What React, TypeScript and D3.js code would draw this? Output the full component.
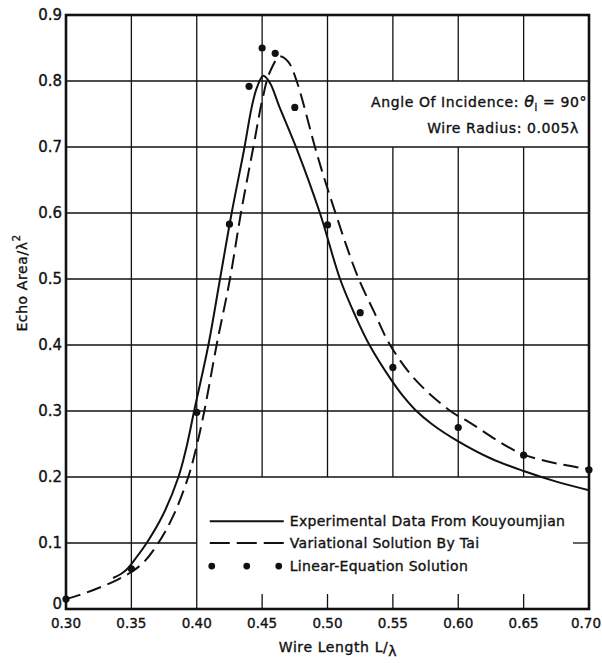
import React from 'react'
import * as d3 from 'd3'

// wire length L/lambda ticks and echo area ticks
const xTicks = [0.30, 0.35, 0.40, 0.45, 0.50, 0.55, 0.60, 0.65, 0.70]
const yTicks = [0, 0.1, 0.2, 0.3, 0.4, 0.5, 0.6, 0.7, 0.8, 0.9]

// Experimental Data From Kouyoumjian
const expL = [0.336, 0.342, 0.347, 0.353, 0.3617, 0.374, 0.386, 0.392, 0.398, 0.4089, 0.4178, 0.4267, 0.4361, 0.442, 0.446, 0.4509, 0.456, 0.463, 0.4769, 0.4942, 0.5096, 0.5211, 0.5321, 0.5481, 0.558, 0.567, 0.58, 0.60, 0.625, 0.65, 0.675, 0.70]
const expV = [0.047, 0.053, 0.061, 0.076, 0.10, 0.142, 0.20, 0.244, 0.30, 0.40, 0.50, 0.60, 0.695, 0.76, 0.79, 0.808, 0.797, 0.762, 0.695, 0.60, 0.50, 0.445, 0.40, 0.349, 0.322, 0.302, 0.280, 0.254, 0.228, 0.209, 0.193, 0.180]

// Variational Solution By Tai
const taiL = [0.30, 0.31, 0.32, 0.33, 0.34, 0.35, 0.36, 0.3706, 0.382, 0.3935, 0.3997, 0.4058, 0.4152, 0.4254, 0.4338, 0.4433, 0.45, 0.456, 0.4637, 0.470, 0.4764, 0.4904, 0.4977, 0.5061, 0.5147, 0.5239, 0.5359, 0.5473, 0.5664, 0.594, 0.6076, 0.65, 0.70]
const taiV = [0.015, 0.021, 0.028, 0.036, 0.045, 0.056, 0.072, 0.10, 0.141, 0.20, 0.245, 0.30, 0.40, 0.50, 0.60, 0.70, 0.77, 0.814, 0.837, 0.829, 0.80, 0.70, 0.6515, 0.60, 0.549, 0.50, 0.449, 0.402, 0.349, 0.30, 0.284, 0.234, 0.212]

// Linear-Equation Solution
const linL = [0.30, 0.35, 0.40, 0.425, 0.44, 0.45, 0.46, 0.475, 0.50, 0.525, 0.55, 0.60, 0.65, 0.70]
const linV = [0.015, 0.061, 0.298, 0.583, 0.792, 0.850, 0.842, 0.760, 0.582, 0.449, 0.366, 0.275, 0.233, 0.211]

const legendLabels = ['Experimental Data From Kouyoumjian', 'Variational Solution By Tai', 'Linear-Equation Solution']

const W = 602
const H = 663
const font = '"DejaVu Sans", sans-serif'
const ink = '#111'

export default function App() {
  const x = d3.scaleLinear().domain([0.3, 0.7]).range([66, 589])
  const y = d3.scaleLinear().domain([0, 0.9]).range([609, 15])

  const line = d3.line<[number, number]>()
    .x(d => x(d[0]))
    .y(d => y(d[1]))
    .curve(d3.curveCatmullRom.alpha(0.5))

  const expPath = line(expL.map((l, i) => [l, expV[i]] as [number, number])) || ''
  const taiPath = line(taiL.map((l, i) => [l, taiV[i]] as [number, number])) || ''

  const x0 = x(0.3), x1 = x(0.7)
  const yTop = y(0.9), yBot = y(0)

  // grid segments, leaving the legend box (0.40-0.70, 0-0.2) and the note box (0.50-0.70, 0.7-0.8) open
  const hLines: [number, number, number][] = []
  yTicks.filter(v => v > 0 && v < 0.9).forEach(v => {
    if (v === 0.1) {
      hLines.push([x0, x(0.4), y(v)])
      hLines.push([x1 - 16, x1, y(v)])
    } else {
      hLines.push([x0, x1, y(v)])
    }
  })
  const vLines: [number, number, number][] = []
  xTicks.filter(l => l > 0.3 && l < 0.7).forEach(l => {
    const xp = x(l)
    if (l <= 0.401) {
      vLines.push([xp, yTop, yBot])
    } else if (l < 0.52) {
      vLines.push([xp, yTop, y(0.2)])
      vLines.push([xp, yBot - 15, yBot])
    } else {
      vLines.push([xp, yTop, y(0.8)])
      vLines.push([xp, y(0.7), y(0.2)])
      vLines.push([xp, yBot - 15, yBot])
    }
  })

  const lgX = x(0.4) + 17
  const lgY = [y(0.133), y(0.1), y(0.065)]
  const textInk = {stroke: ink, strokeWidth: 0.35}

  return (
    <svg width={W} height={H} style={{position: 'absolute', left: 0, top: 0, background: '#fff'}}
      fontFamily={font} fill={ink}>
      <rect width={W} height={H} fill="#fff" />
      <g stroke={ink} strokeWidth={1.3}>
        {hLines.map(([a, b, yy], i) => <line key={'h' + i} x1={a} x2={b} y1={yy} y2={yy} />)}
        {vLines.map(([xx, a, b], i) => <line key={'v' + i} x1={xx} x2={xx} y1={a} y2={b} />)}
      </g>
      <rect x={x0} y={yTop} width={x1 - x0} height={yBot - yTop} fill="none" stroke={ink} strokeWidth={2.6} />

      <path d={expPath} fill="none" stroke={ink} strokeWidth={2} />
      <path d={taiPath} fill="none" stroke={ink} strokeWidth={2} strokeDasharray="15,7" />
      {linL.map((l, i) => <circle key={'d' + i} cx={x(l)} cy={y(linV[i])} r={3.6} fill={ink} />)}

      <g {...textInk}>
        {yTicks.map(v => (
          <text key={'yt' + v} x={x0 - 4} y={v === 0 ? y(v) - 5 : y(v)} dy="0.35em" textAnchor="end" fontSize={15}>
            {v === 0 ? '0' : v.toFixed(1)}
          </text>
        ))}
        {xTicks.map((l, i) => (
          <text key={'xt' + l} x={i === xTicks.length - 1 ? W - 1 : x(l)} y={yBot + 19}
            textAnchor={i === xTicks.length - 1 ? 'end' : 'middle'} fontSize={13.5}>
            {l.toFixed(2)}
          </text>
        ))}

        <text x={338} y={652} textAnchor="middle" fontSize={14} letterSpacing={0.6}>
          Wire Length L/<tspan dy={4}>λ</tspan>
        </text>
        <text transform="translate(27,283) rotate(-90)" textAnchor="middle" fontSize={14} letterSpacing={0.6}>
          Echo Area/λ<tspan dy={-7} fontSize={10}>2</tspan>
        </text>

        <text x={x1 - 2} y={107} textAnchor="end" fontSize={14} letterSpacing={0.6}>
          Angle Of Incidence: <tspan fontStyle="italic" fontSize={16}>θ</tspan><tspan dy={4} fontSize={10}>i</tspan><tspan dy={-4}> = 90°</tspan>
        </text>
        <text x={x1 - 10} y={133} textAnchor="end" fontSize={14} letterSpacing={0.6}>
          Wire Radius: 0.005λ
        </text>

        {legendLabels.map((t, i) => (
          <text key={t} x={lgX + 76} y={lgY[i]} dy="0.35em" fontSize={14} letterSpacing={0.3}>{t}</text>
        ))}
      </g>

      <line x1={lgX - 4} x2={lgX + 70} y1={lgY[0]} y2={lgY[0]} stroke={ink} strokeWidth={2} />
      <line x1={lgX - 4} x2={lgX + 70} y1={lgY[1]} y2={lgY[1]} stroke={ink} strokeWidth={2} strokeDasharray="20,7" />
      {[0, 35, 67].map(dx => <circle key={'lg' + dx} cx={lgX - 2 + dx} cy={lgY[2]} r={3.4} fill={ink} />)}
    </svg>
  )
}
